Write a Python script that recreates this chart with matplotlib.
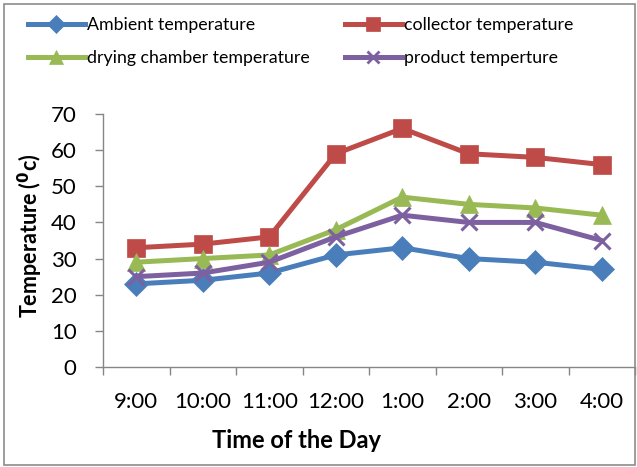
import numpy as np
import matplotlib.pyplot as plt
from matplotlib.patches import Rectangle
from matplotlib.lines import Line2D

plt.rcParams['font.family'] = ['Lato', 'DejaVu Sans']

times = ['9:00', '10:00', '11:00', '12:00', '1:00', '2:00', '3:00', '4:00']
ambient = [23, 24, 26, 31, 33, 30, 29, 27]
collector = [33, 34, 36, 59, 66, 59, 58, 56]
drying = [29, 30, 31, 38, 47, 45, 44, 42]
product = [25, 26, 29, 36, 42, 40, 40, 35]

series = [
    ('Ambient temperature', ambient, '#4A7EBB', 'D', 12),
    ('collector temperature', collector, '#BE4B48', 's', 13),
    ('drying chamber temperature', drying, '#98B954', '^', 13.5),
    ('product temperture', product, '#7D60A0', 'x', 12),
]

fig = plt.figure(figsize=(6.37, 4.67), dpi=100)
ax = fig.add_axes([103 / 637, 1 - 367 / 467, 532 / 637, 253 / 467])

x = np.arange(len(times))
for name, vals, col, mk, ms in series:
    ax.plot(x, vals, color=col, lw=3.6, marker=mk, markersize=ms,
            markeredgewidth=2.2 if mk == 'x' else 0.5, markeredgecolor=col,
            markerfacecolor=col, label=name, solid_capstyle='round')

ax.set_xlim(-0.5, len(times) - 0.5)
ax.set_ylim(0, 70)
ax.set_yticks(range(0, 71, 10))
ax.set_xticks(np.arange(-0.5, len(times)), labels=[''] * (len(times) + 1))
ax.set_xticks(x, labels=times, minor=True)
ax.tick_params(axis='x', which='major', length=6, color='#868686', width=1)
ax.tick_params(axis='x', which='minor', length=0, pad=18, labelsize=16)
ax.tick_params(axis='y', length=6, color='#868686', width=1, pad=13, labelsize=16)
for s in ['top', 'right']:
    ax.spines[s].set_visible(False)
for s in ['left', 'bottom']:
    ax.spines[s].set_color('#868686')
    ax.spines[s].set_linewidth(1)

fig.text(297 / 637, 1 - 441 / 467, 'Time of the Day', ha='center', va='center',
         fontsize=17, fontweight='bold')
fig.text(30 / 637, 1 - 236 / 467, r'Temperature ($\mathbf{^{0}}$c)', ha='center',
         va='center', rotation=90, fontsize=15.5, fontweight='bold')

# legend is filled column by column, so order the entries to read row-wise
order = [0, 2, 1, 3]
handles = []
labels = []
for i in order:
    name, _, col, mk, ms = series[i]
    handles.append(Line2D([], [], color=col, lw=3.6, marker=mk, markersize=ms * 0.75,
                          markeredgewidth=2 if mk == 'x' else 0.5, markeredgecolor=col,
                          markerfacecolor=col))
    labels.append(name)
fig.legend(handles, labels, loc='upper left', bbox_to_anchor=(12 / 637, 1 - 1 / 467),
           ncol=2, frameon=False, fontsize=12.8, handlelength=3.2,
           handletextpad=0.1, columnspacing=2.0, labelspacing=0.95)

fig.add_artist(Rectangle((4 / 637, 2 / 467), 631 / 637, 461 / 467,
                         transform=fig.transFigure, fill=False,
                         edgecolor='#8c8c8c', lw=1.2))

fig.savefig('out.png', dpi=100)
